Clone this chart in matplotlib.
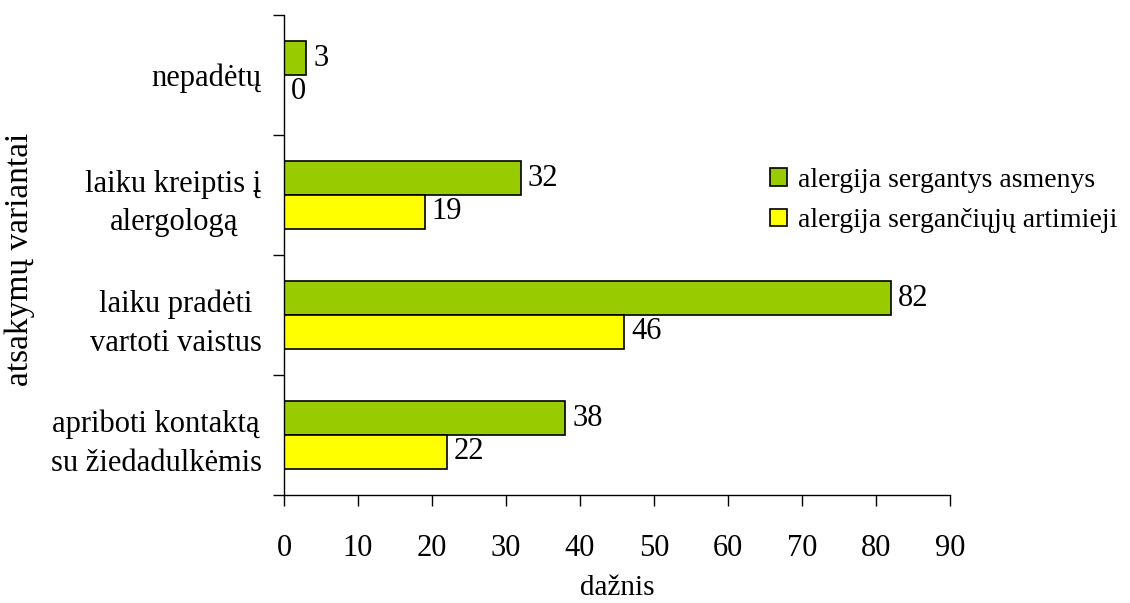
import numpy as np
import matplotlib
matplotlib.use('Agg')
import matplotlib.pyplot as plt
from matplotlib.ticker import FixedLocator

plt.rcParams['font.family'] = ['Liberation Serif', 'DejaVu Serif']

# data, listed top to bottom as in the chart
categories = ['nepadėtų', 'laiku kreiptis į\nalergologą', 'laiku pradėti\nvartoti vaistus',
              'apriboti kontaktą\nsu žiedadulkėmis']
sergantys = [3, 32, 82, 38]
artimieji = [0, 19, 46, 22]
series_names = ['alergija sergantys asmenys', 'alergija sergančiųjų artimieji']

fs = 22

fig = plt.figure(figsize=(11.3, 6.03), dpi=100)
ax = fig.add_axes([0.2513, 0.179, 0.5894, 0.796])

y = np.arange(len(categories))
h = 0.28
b1 = ax.barh(y - h / 2, sergantys, height=h, color='#99CC00', edgecolor='black', linewidth=1.2,
             label=series_names[0])
b2 = ax.barh(y + h / 2, artimieji, height=h, color='#FFFF00', edgecolor='black', linewidth=1.2,
             label=series_names[1])

# value labels at bar ends
for bars, vals in ((b1, sergantys), (b2, artimieji)):
    for bar, v in zip(bars, vals):
        ax.annotate(str(v), (bar.get_width(), bar.get_y() + bar.get_height() / 2),
                    xytext=(5, 0), textcoords='offset points', ha='left', va='center', fontsize=fs)

ax.set_ylim(len(categories) - 0.5, -0.5)
ax.set_xlim(0, 90)
ax.set_xticks(np.arange(0, 91, 10))
ax.set_yticks(y)
ax.set_yticklabels(categories, multialignment='center', linespacing=1.45)
ax.yaxis.set_minor_locator(FixedLocator(np.arange(-0.5, len(categories), 1)))

ax.tick_params(axis='y', which='major', length=0, pad=16, labelsize=fs)
ax.tick_params(axis='y', which='minor', length=8, width=1, direction='out')
ax.tick_params(axis='x', length=8, width=1, direction='out', pad=20, labelsize=fs)

for s in ('top', 'right'):
    ax.spines[s].set_visible(False)
for s in ('left', 'bottom'):
    ax.spines[s].set_linewidth(1)

ax.set_xlabel('dažnis', fontsize=21, labelpad=9)
ax.set_ylabel('atsakymų variantai', fontsize=24)
ax.yaxis.set_label_coords(-0.374, 0.49)

ax.legend(loc='upper left', bbox_to_anchor=(0.672, 0.74), bbox_transform=fig.transFigure,
          frameon=False, fontsize=20, handlelength=0.6, handleheight=0.6,
          handletextpad=0.4, labelspacing=0.55, borderaxespad=0)

fig.savefig('out.png', dpi=100)
